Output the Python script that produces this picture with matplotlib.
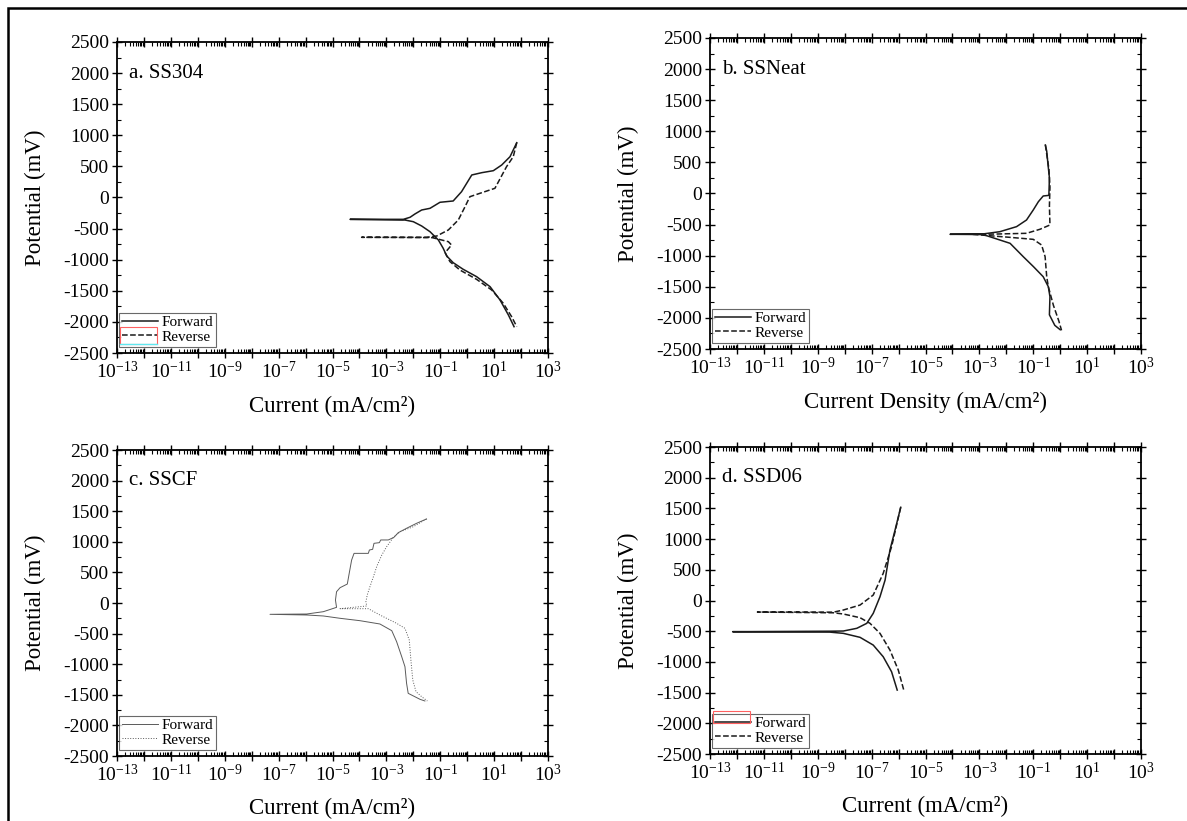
import numpy as np
import matplotlib
matplotlib.use("Agg")
import matplotlib.pyplot as plt
from matplotlib.ticker import FixedLocator, FuncFormatter, LogLocator, MultipleLocator, NullFormatter
from matplotlib.patches import Rectangle
from matplotlib.lines import Line2D

plt.rcParams["font.family"] = ["Liberation Serif", "DejaVu Serif"]
plt.rcParams["mathtext.fontset"] = "custom"
plt.rcParams["mathtext.rm"] = "Liberation Serif"
plt.rcParams["mathtext.it"] = "Liberation Serif:italic"
plt.rcParams["mathtext.bf"] = "Liberation Serif:bold"
plt.rcParams["axes.unicode_minus"] = False

# ---- data: log10(current density, mA/cm^2) and potential (mV) ----
# a. SS304
a_fwd_logi = [1.74, 1.53, 1.22, 0.85, 0.35, -0.15, -0.52, -0.76, -0.89, -1.07, -1.38, -1.69, -2.00, -2.31,
              -4.35, -2.37, -2.12, -1.94, -1.69, -1.38, -1.01, -0.52, -0.21, 0.17, 0.54, 0.97, 1.28, 1.59, 1.84]
a_fwd_e = [-2077, -1889, -1648, -1434, -1273, -1154, -1048, -940, -817, -683, -550, -458, -389, -362,
           -351, -351, -318, -265, -201, -174, -77, -56, 93, 362, 399, 431, 522, 656, 881]
a_rev_logi = [1.84, 1.71, 1.46, 1.03, 0.47, 0.10, -0.08, -0.33, -0.70, -1.13, -1.50, -3.92,
              -1.30, -0.70, -0.58, -0.82, -0.64, -0.27, 0.35, 0.91, 1.34, 1.65, 1.84]
a_rev_e = [881, 656, 495, 148, 67, 13, -148, -362, -522, -619, -640, -640,
           -645, -710, -764, -887, -1031, -1166, -1316, -1487, -1701, -1916, -2077]

# b. SSNeat
b_fwd_logi = [0.00, -0.20, -0.40, -0.38, -0.44, -0.63, -0.99, -1.37, -1.86, -2.86, -4.09,
              -2.86, -2.24, -1.62, -1.25, -1.00, -0.81, -0.63, -0.42, -0.40, -0.46, -0.50, -0.55]
b_fwd_e = [-2190, -2120, -1950, -1659, -1499, -1338, -1177, -1016, -801, -660, -656,
           -650, -614, -533, -426, -265, -132, -40, -30, 250, 500, 680, 780]
b_rev_logi = [-0.55, -0.42, -0.38, -0.40, -0.38, -0.75, -1.25, -2.40, -3.30,
              -1.86, -1.00, -0.69, -0.56, -0.50, -0.44, -0.25, -0.05, 0.05]
b_rev_e = [780, 400, 100, -200, -506, -575, -640, -652, -655,
           -705, -737, -828, -1016, -1338, -1499, -1800, -2050, -2200]

# c. SSCF
c_fwd_logi = [-1.57, -1.75, -2.19, -2.25, -2.31, -2.43, -2.62, -2.80, -3.24, -3.98, -4.72, -5.34, -5.96, -7.32,
              -5.96, -5.34, -4.85, -4.89, -4.85, -4.72, -4.45, -4.38, -4.29, -4.20, -3.67, -3.63, -3.51,
              -3.46, -3.26, -3.21, -2.93, -2.72, -2.56, -2.25, -1.88, -1.51]
c_fwd_e = [-1601, -1574, -1476, -1313, -1041, -878, -632, -452, -343, -289, -250, -212, -196, -185,
           -180, -142, -71, 48, 184, 250, 310, 484, 702, 811, 811, 866, 877,
           975, 986, 1030, 1030, 1073, 1149, 1221, 1302, 1373]
c_rev_logi = [-1.51, -2.00, -2.49, -2.74, -2.99, -3.17, -3.36, -3.48, -3.61, -3.71, -3.76, -3.73, -4.23, -4.72,
              -3.67, -3.24, -2.62, -2.31, -2.15, -2.09, -2.02, -1.90, -1.69, -1.48]
c_rev_e = [1373, 1247, 1165, 1073, 920, 784, 594, 430, 267, 131, 21, -49, -71, -93,
           -93, -196, -332, -414, -605, -931, -1258, -1449, -1531, -1601]

# d. SSD06
d_fwd_logi = [-6.05, -6.26, -6.57, -6.94, -7.43, -8.05, -8.55, -12.16,
              -8.55, -8.05, -7.55, -7.18, -6.94, -6.69, -6.50, -6.32, -6.13, -5.92]
d_fwd_e = [-1459, -1160, -916, -726, -600, -535, -515, -508,
           -500, -497, -453, -372, -209, 61, 333, 822, 1148, 1518]
d_rev_logi = [-5.92, -6.26, -6.57, -6.94, -7.43, -8.05, -8.42, -11.24,
              -8.42, -8.05, -7.43, -7.06, -6.69, -6.32, -6.01, -5.80]
d_rev_e = [1518, 876, 442, 89, -74, -155, -190, -188,
           -200, -220, -280, -372, -535, -807, -1133, -1470]

panel_titles = ["a. SS304", "b. SSNeat", "c. SSCF", "d. SSD06"]
x_labels = ["Current (mA/cm\u00b2)", "Current Density (mA/cm\u00b2)",
            "Current (mA/cm\u00b2)", "Current (mA/cm\u00b2)"]
y_label = "Potential (mV)"
legend_labels = ["Forward", "Reverse"]

# ---- figure ----
W, H = 1187, 821
fig = plt.figure(figsize=(W / 100, H / 100), dpi=100)

def frac(left, right, top, bottom):
    return [left / W, 1 - bottom / H, (right - left) / W, (bottom - top) / H]

boxes = [frac(117, 548, 42, 353), frac(710, 1141, 38, 349),
         frac(117, 548, 450, 756), frac(710, 1141, 447, 754)]

series = [
    (a_fwd_logi, a_fwd_e, a_rev_logi, a_rev_e),
    (b_fwd_logi, b_fwd_e, b_rev_logi, b_rev_e),
    (c_fwd_logi, c_fwd_e, c_rev_logi, c_rev_e),
    (d_fwd_logi, d_fwd_e, d_rev_logi, d_rev_e),
]

line_color = ["#1a1a1a", "#1a1a1a", "#5a5a5a", "#1a1a1a"]
line_width = [1.1, 1.1, 0.7, 1.1]
rev_style = ["--", "--", ":", "--"]

def xfmt(v, pos):
    k = int(round(np.log10(v)))
    if k % 2 == 0:
        return ""
    return r"$\mathrm{10^{%d}}$" % k

for i, (box, (fl, fe, rl, re)) in enumerate(zip(boxes, series)):
    ax = fig.add_axes(box)
    ax.set_xscale("log")
    ax.set_xlim(1e-13, 1e3)
    ax.set_ylim(-2500, 2500)

    ax.plot(np.power(10.0, fl), fe, color=line_color[i], lw=line_width[i], ls="-")
    ax.plot(np.power(10.0, rl), re, color=line_color[i], lw=line_width[i], ls=rev_style[i])

    ax.xaxis.set_major_locator(FixedLocator([10.0 ** k for k in range(-13, 4)]))
    ax.xaxis.set_major_formatter(FuncFormatter(xfmt))
    ax.xaxis.set_minor_locator(LogLocator(base=10, subs=np.arange(2, 10), numticks=100))
    ax.xaxis.set_minor_formatter(NullFormatter())
    ax.yaxis.set_major_locator(MultipleLocator(500))
    ax.yaxis.set_minor_locator(MultipleLocator(250))

    ax.tick_params(axis="both", which="both", top=True, right=True, labelsize=14, pad=2)
    ax.tick_params(axis="both", which="major", direction="inout", length=7, width=1.0)
    ax.tick_params(axis="both", which="minor", direction="in", length=3, width=0.8)
    for s in ax.spines.values():
        s.set_linewidth(1.3)

    ax.set_xlabel(x_labels[i], fontsize=16.5)
    ax.set_ylabel(y_label, fontsize=16.5)
    ax.yaxis.set_label_coords(-0.165, 0.5)
    ax.xaxis.set_label_coords(0.5, -0.138)

    ax.text(0.028, 0.90, panel_titles[i], transform=ax.transAxes, fontsize=15,
            ha="left", va="center")

    handles = [Line2D([], [], color=line_color[i], lw=line_width[i], ls="-"),
               Line2D([], [], color=line_color[i], lw=line_width[i], ls=rev_style[i])]
    leg = ax.legend(handles, legend_labels, loc="lower left", bbox_to_anchor=(0.0, 0.015),
                    fontsize=11, frameon=True, fancybox=False, handlelength=2.4,
                    handletextpad=0.2, labelspacing=0.05, borderpad=0.2, borderaxespad=0.1)
    leg.get_frame().set_edgecolor("#444444")
    leg.get_frame().set_linewidth(0.8)

    if i == 0:
        ax.add_patch(Rectangle((0.007, 0.029), 0.086, 0.055, transform=ax.transAxes,
                               fill=False, ec="#ff6060", lw=0.8, zorder=10))
        ax.add_line(Line2D([0.007, 0.093], [0.029, 0.029], transform=ax.transAxes,
                           color="#60e8f0", lw=1.0, zorder=11))
    if i == 3:
        ax.add_patch(Rectangle((0.007, 0.101), 0.086, 0.039, transform=ax.transAxes,
                               fill=False, ec="#ff6060", lw=0.8, zorder=10))

# outer frame
fig.add_artist(Rectangle((8 / W, -0.05), 1.2, 1 - 8 / H + 0.05, transform=fig.transFigure,
                         fill=False, ec="black", lw=1.8))

fig.savefig("out.png", dpi=100)
